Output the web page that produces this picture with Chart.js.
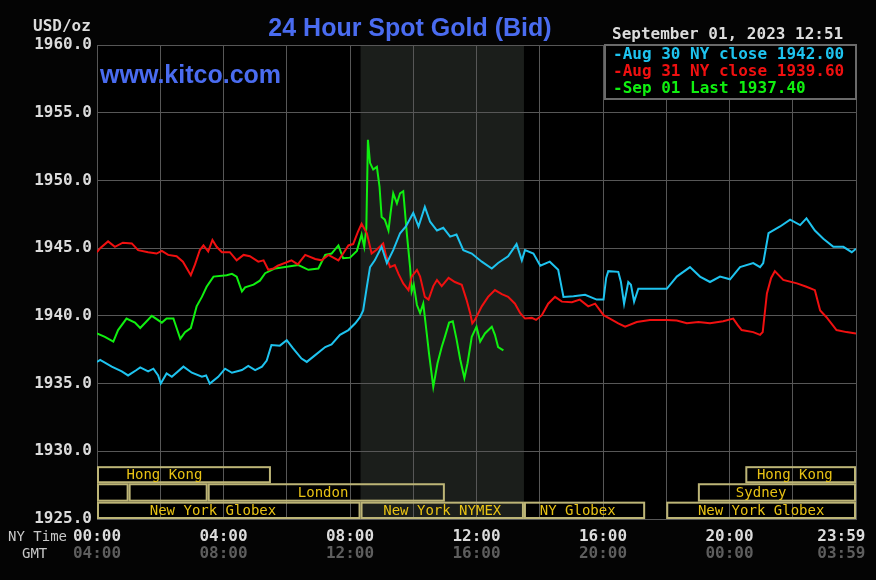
<!DOCTYPE html>
<html><head><meta charset="utf-8">
<script src="https://cdn.jsdelivr.net/npm/chart.js@4.4.0/dist/chart.umd.min.js"></script>
<style>html,body{margin:0;padding:0;background:#000;}canvas{display:block;}</style>
</head><body>
<canvas id="c" width="876" height="580"></canvas>
<script>
// ---- DATA (minutes after 00:00 NY time, price USD/oz) ----
const aug30Times = [0,6,28,47,59,75,82,97,107,116,121,132,142,164,180,199,207,214,230,243,256,275,287,300,313,322,331,347,360,372,388,398,414,433,445,461,477,490,499,505,512,518,527,540,550,562,575,586,600,610,622,632,645,657,670,682,695,711,730,749,761,780,796,806,812,828,841,859,875,885,904,926,948,961,966,970,989,994,1000,1008,1013,1019,1027,1081,1100,1125,1144,1163,1182,1201,1220,1245,1258,1264,1274,1296,1315,1334,1346,1362,1378,1397,1416,1432,1440];
const aug30Values = [1936.6,1936.75,1936.25,1935.9,1935.6,1936.0,1936.2,1935.9,1936.1,1935.6,1935.0,1935.75,1935.5,1936.25,1935.8,1935.5,1935.6,1935.0,1935.5,1936.1,1935.8,1936.0,1936.3,1936.0,1936.25,1936.7,1937.85,1937.8,1938.2,1937.6,1936.85,1936.6,1937.1,1937.7,1937.9,1938.6,1938.95,1939.45,1939.9,1940.4,1942.15,1943.6,1944.1,1945.1,1943.9,1944.85,1946.1,1946.6,1947.6,1946.6,1948.05,1946.95,1946.3,1946.5,1945.85,1946.0,1944.85,1944.6,1944.0,1943.5,1943.9,1944.4,1945.3,1944.1,1944.85,1944.6,1943.7,1944.0,1943.4,1941.4,1941.45,1941.55,1941.2,1941.2,1942.8,1943.3,1943.25,1942.5,1940.9,1942.5,1942.3,1941.05,1942.0,1942.0,1942.9,1943.6,1942.9,1942.5,1942.9,1942.7,1943.6,1943.9,1943.6,1943.9,1946.1,1946.6,1947.1,1946.7,1947.2,1946.3,1945.7,1945.1,1945.1,1944.7,1944.95];

const aug31Times = [0,6,21,34,49,66,78,97,113,123,135,151,163,178,186,195,202,211,219,227,237,252,265,278,290,306,316,325,335,343,369,381,395,414,426,439,458,467,477,486,495,502,512,521,531,543,548,556,565,572,581,591,597,607,613,622,629,638,645,654,667,679,692,701,708,712,717,730,742,755,768,780,793,803,812,825,833,844,856,869,882,901,916,932,945,961,973,989,1002,1024,1049,1081,1100,1119,1141,1163,1188,1207,1216,1223,1245,1258,1263,1271,1279,1286,1302,1328,1346,1362,1372,1384,1403,1422,1440];
const aug31Values = [1944.7,1945.0,1945.5,1945.1,1945.4,1945.35,1944.85,1944.7,1944.6,1944.8,1944.5,1944.4,1944.0,1943.0,1943.8,1944.85,1945.2,1944.75,1945.6,1945.1,1944.7,1944.7,1944.1,1944.5,1944.4,1944.0,1944.1,1943.4,1943.5,1943.7,1944.1,1943.8,1944.5,1944.2,1944.1,1944.5,1944.1,1944.6,1945.2,1945.3,1946.2,1946.8,1946.1,1944.6,1944.9,1945.35,1944.5,1943.6,1943.75,1943.1,1942.4,1941.9,1942.9,1943.4,1942.9,1941.4,1941.2,1942.2,1942.65,1942.2,1942.8,1942.5,1942.3,1941.2,1940.2,1939.45,1939.7,1940.7,1941.4,1941.9,1941.6,1941.4,1940.9,1940.2,1939.8,1939.85,1939.7,1940.05,1940.9,1941.4,1941.05,1941.0,1941.2,1940.7,1940.9,1940.05,1939.8,1939.45,1939.2,1939.55,1939.7,1939.7,1939.65,1939.45,1939.55,1939.45,1939.6,1939.8,1939.3,1938.95,1938.8,1938.6,1938.8,1941.65,1942.8,1943.3,1942.65,1942.4,1942.15,1941.9,1940.4,1939.9,1938.95,1938.8,1938.7];

const sep01Times = [0,15,31,40,56,72,82,104,123,132,145,148,158,167,178,189,199,208,221,246,256,265,275,281,297,309,319,338,357,382,401,420,433,445,458,467,480,493,502,507,511,514,518,524,531,536,540,546,553,557,562,569,575,581,588,594,597,601,607,613,619,625,630,638,646,654,660,668,675,682,689,697,703,711,720,727,736,749,755,761,771];
const sep01Values = [1938.7,1938.45,1938.1,1938.95,1939.8,1939.5,1939.1,1940.0,1939.5,1939.8,1939.8,1939.45,1938.3,1938.8,1939.1,1940.7,1941.4,1942.15,1942.9,1943.0,1943.1,1942.9,1941.8,1942.1,1942.3,1942.6,1943.15,1943.5,1943.6,1943.75,1943.4,1943.5,1944.5,1944.6,1945.2,1944.25,1944.3,1944.8,1946.0,1945.1,1946.5,1953.0,1951.3,1950.8,1951.0,1949.55,1947.3,1947.1,1946.3,1947.6,1949.05,1948.3,1949.05,1949.2,1946.0,1943.6,1941.8,1942.3,1940.8,1940.2,1940.9,1938.9,1937.2,1934.75,1936.5,1937.7,1938.45,1939.5,1939.6,1938.3,1936.8,1935.4,1936.5,1938.45,1939.2,1938.1,1938.7,1939.2,1938.6,1937.7,1937.45];

const seriesNames = ['Aug 30 NY close 1942.00','Aug 31 NY close 1939.60','Sep 01 Last 1937.40'];
const yTickValues = [1925,1930,1935,1940,1945,1950,1955,1960];
const xTickMinutes = [0,240,480,720,960,1200,1439];
const xTickNY = ['00:00','04:00','08:00','12:00','16:00','20:00','23:59'];
const xTickGMT = ['04:00','08:00','12:00','16:00','20:00','00:00','03:59'];

const sessionNames = ['Hong Kong','Hong Kong','','','London','Sydney','New York Globex','New York NYMEX','NY Globex','New York Globex'];
const sessionRows  = [0,0,1,1,1,1,2,2,2,2];
const sessionStart = [0,1230,0,60,210,1140,0,500,810,1080];
const sessionEnd   = [330,1440,60,210,660,1440,500,810,1040,1440];
const sessionLabelAt = [128,1324,null,null,429,1260,220,655,912,1260];
const nymexOpen = 500, nymexClose = 810;
const sessionRowEdges = [1928.9,1927.64,1926.28,1925.0];

// ---- CHART ----
const MONO = '"DejaVu Sans Mono", "Liberation Mono", monospace';
const SANS = '"Liberation Sans", Arial, sans-serif';
const colors = ['#1ec3ef','#f01010','#10f010'];

function pts(t, v){ return t.map((m,i)=>({x:m,y:v[i]})); }

const kitcoPlugin = {
  id:'kitco',
  beforeDraw(chart){
    const {ctx, chartArea:a, scales:{x}} = chart;
    ctx.save();
    ctx.fillStyle = '#040404';
    ctx.fillRect(0,0,chart.width,chart.height);
    ctx.fillStyle = '#000';
    ctx.fillRect(a.left,a.top,a.right-a.left,a.bottom-a.top);
    const x0 = x.getPixelForValue(nymexOpen), x1 = x.getPixelForValue(nymexClose);
    ctx.fillStyle = '#1b1e1b';
    ctx.fillRect(x0,a.top,x1-x0,a.bottom-a.top);
    ctx.restore();
  },
  afterDatasetsDraw(chart){
    const {ctx, scales:{x,y}} = chart;
    ctx.save();
    ctx.strokeStyle = '#bdb577';
    ctx.lineWidth = 2;
    ctx.font = '14px ' + MONO;
    ctx.textAlign = 'center';
    ctx.textBaseline = 'middle';
    for (let i=0;i<sessionNames.length;i++){
      const r = sessionRows[i];
      const yt = y.getPixelForValue(sessionRowEdges[r]);
      const yb = y.getPixelForValue(sessionRowEdges[r+1]);
      const xl = x.getPixelForValue(sessionStart[i]);
      const xr = x.getPixelForValue(sessionEnd[i]);
      ctx.strokeRect(xl+1, yt+1, xr-xl-2, yb-yt-2);
      if (sessionNames[i]){
        ctx.fillStyle = '#e8c214';
        ctx.fillText(sessionNames[i], x.getPixelForValue(sessionLabelAt[i]), (yt+yb)/2+1);
      }
    }
    ctx.restore();
  },
  afterDraw(chart){
    const {ctx, chartArea:a, scales:{x}} = chart;
    ctx.save();
    // title
    ctx.fillStyle = '#4a6cf0';
    ctx.font = 'bold 25px ' + SANS;
    ctx.textAlign = 'center'; ctx.textBaseline = 'middle';
    ctx.fillText('24 Hour Spot Gold (Bid)', 410, 29);
    ctx.textAlign = 'left';
    ctx.fillText('www.kitco.com', a.left+3, 76);
    // units
    ctx.fillStyle = '#dcdcdc';
    ctx.font = 'bold 16px ' + MONO;
    ctx.fillText('USD/oz', 33, 27);
    // date
    ctx.fillText('September 01, 2023 12:51', 612, 35);
    // legend box
    const lx = a.right-251, ly = a.top, lw = 251, lh = 54;
    ctx.fillStyle = '#000';
    ctx.fillRect(lx, ly, lw, lh);
    ctx.strokeStyle = '#6a6a6a'; ctx.lineWidth = 2;
    ctx.strokeRect(lx, ly, lw, lh);
    seriesNames.forEach((n,i)=>{
      ctx.fillStyle = colors[i];
      ctx.fillText('-' + n, lx+8, ly+10+i*17);
    });
    // x labels
    ctx.font = '14px ' + MONO;
    ctx.fillStyle = '#c8c8c8';
    ctx.fillText('NY Time', 8, 537);
    ctx.fillText('GMT', 22, 554);
    ctx.font = 'bold 16px ' + MONO;
    xTickMinutes.forEach((m,i)=>{
      const px = x.getPixelForValue(m);
      const last = i === xTickMinutes.length-1;
      ctx.textAlign = last ? 'right' : 'center';
      const tx = last ? px+10 : px;
      ctx.fillStyle = '#dcdcdc';
      ctx.fillText(xTickNY[i], tx, 537);
      ctx.fillStyle = '#5e5e5e';
      ctx.fillText(xTickGMT[i], tx, 554);
    });
    ctx.restore();
  }
};

new Chart(document.getElementById('c'), {
  type:'line',
  data:{
    datasets:[
      {label:seriesNames[0], data:pts(aug30Times,aug30Values), borderColor:colors[0], borderWidth:2, pointRadius:0, tension:0},
      {label:seriesNames[1], data:pts(aug31Times,aug31Values), borderColor:colors[1], borderWidth:2, pointRadius:0, tension:0},
      {label:seriesNames[2], data:pts(sep01Times,sep01Values), borderColor:colors[2], borderWidth:2, pointRadius:0, tension:0}
    ]
  },
  options:{
    responsive:false, animation:false, devicePixelRatio:1,
    layout:{padding:{top:45,right:20,left:0,bottom:0}},
    plugins:{legend:{display:false}, title:{display:false}, tooltip:{enabled:false}},
    scales:{
      x:{type:'linear', min:0, max:1440,
         ticks:{display:false, stepSize:120},
         grid:{color:'#575757', lineWidth:1, drawTicks:false},
         border:{color:'#575757'},
         afterFit(s){ s.height = 61; }},
      y:{type:'linear', min:1925, max:1960,
         afterBuildTicks(s){ s.ticks = yTickValues.map(v=>({value:v})); },
         ticks:{padding:5, color:'#dcdcdc', font:{family:MONO, size:16, weight:'bold'},
                callback:v=>v.toFixed(1)},
         grid:{color:'#575757', lineWidth:1, drawTicks:false},
         border:{color:'#575757'},
         afterFit(s){ s.width = 97; }}
    }
  },
  plugins:[kitcoPlugin]
});
</script>
</body></html>
